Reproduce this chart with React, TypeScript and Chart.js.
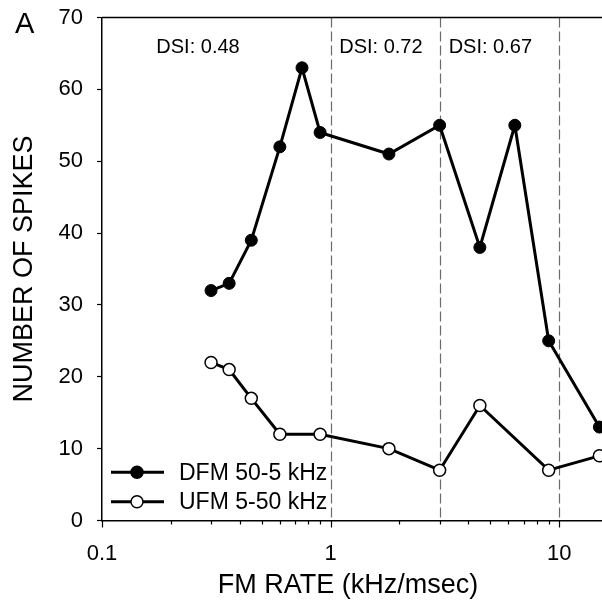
import React, { useEffect, useRef } from 'react';
import { Chart, registerables } from 'chart.js';

Chart.register(...registerables);

// ---- data ----
const dfmRates = [0.3, 0.36, 0.45, 0.6, 0.75, 0.9, 1.8, 3, 4.5, 6.4, 9, 15];
const dfmSpikes = [32, 33, 39, 52, 63, 54, 51, 55, 38, 55, 25, 13];
const ufmRates = [0.3, 0.36, 0.45, 0.6, 0.9, 1.8, 3, 4.5, 9, 15];
const ufmSpikes = [22, 21, 17, 12, 12, 10, 7, 16, 7, 9];
const seriesNames = ['DFM 50-5 kHz', 'UFM 5-50 kHz'];

const xTickLabels = [0.1, 1, 10];
const xMinorTicks = [0.2, 0.3, 0.4, 0.5, 0.6, 0.7, 0.8, 0.9, 2, 3, 4, 5, 6, 7, 8, 9];
const yTickLabels = [0, 10, 20, 30, 40, 50, 60, 70];

const dividerRates = [1, 3, 10];
const dsiTexts = ['DSI: 0.48', 'DSI: 0.72', 'DSI: 0.67'];
const dsiRates = [0.263, 1.66, 5.0];
const dsiLevel = 66.1;

const panelLetter = 'A';
const xTitle = 'FM RATE (kHz/msec)';
const yTitle = 'NUMBER OF SPIKES';

const FONT = '"Liberation Sans", Arial, Helvetica, sans-serif';

const overlay = {
  id: 'overlay',
  beforeDatasetsDraw(chart: any) {
    const { ctx, chartArea, scales } = chart;
    const x = scales.x;
    const y = scales.y;
    ctx.save();
    // dashed dividers
    ctx.strokeStyle = '#6a6a6a';
    ctx.lineWidth = 1.2;
    ctx.setLineDash([10, 4]);
    dividerRates.forEach((v) => {
      const px = Math.round(x.getPixelForValue(v)) + 0.5;
      ctx.beginPath();
      ctx.moveTo(px, chartArea.top);
      ctx.lineTo(px, chartArea.bottom);
      ctx.stroke();
    });
    ctx.setLineDash([]);
    // top border
    ctx.strokeStyle = '#000';
    ctx.lineWidth = 1.5;
    ctx.beginPath();
    ctx.moveTo(chartArea.left, chartArea.top);
    ctx.lineTo(chartArea.right, chartArea.top);
    ctx.stroke();
    // x ticks
    ctx.lineWidth = 1.2;
    xTickLabels.forEach((v) => {
      const px = Math.round(x.getPixelForValue(v)) + 0.5;
      ctx.beginPath();
      ctx.moveTo(px, chartArea.bottom);
      ctx.lineTo(px, chartArea.bottom + 7);
      ctx.stroke();
    });
    xMinorTicks.forEach((v) => {
      const px = Math.round(x.getPixelForValue(v)) + 0.5;
      ctx.beginPath();
      ctx.moveTo(px, chartArea.bottom);
      ctx.lineTo(px, chartArea.bottom + 4);
      ctx.stroke();
    });
    // DSI labels
    ctx.fillStyle = '#000';
    ctx.font = `20px ${FONT}`;
    ctx.textAlign = 'center';
    ctx.textBaseline = 'alphabetic';
    dsiTexts.forEach((t, i) => {
      ctx.fillText(t, x.getPixelForValue(dsiRates[i]), y.getPixelForValue(dsiLevel) + 7.5);
    });
    ctx.restore();
  },
  afterDraw(chart: any) {
    const { ctx } = chart;
    ctx.save();
    ctx.fillStyle = '#000';
    // panel letter
    ctx.font = `29px ${FONT}`;
    ctx.textAlign = 'left';
    ctx.textBaseline = 'alphabetic';
    ctx.fillText(panelLetter, 15, 33);
    // x title
    ctx.font = `27px ${FONT}`;
    ctx.textAlign = 'center';
    ctx.fillText(xTitle, 348, 593);
    // y title
    ctx.save();
    ctx.translate(31.5, 269);
    ctx.rotate(-Math.PI / 2);
    ctx.fillText(yTitle, 0, 0);
    ctx.restore();
    // legend
    const rows = [
      { name: seriesNames[0], fill: '#000', y: 472.3 },
      { name: seriesNames[1], fill: '#fff', y: 501.7 },
    ];
    rows.forEach((r) => {
      ctx.strokeStyle = '#000';
      ctx.lineWidth = 3;
      ctx.beginPath();
      ctx.moveTo(111, r.y);
      ctx.lineTo(164, r.y);
      ctx.stroke();
      ctx.beginPath();
      ctx.arc(137, r.y, 6, 0, Math.PI * 2);
      ctx.fillStyle = r.fill;
      ctx.fill();
      ctx.lineWidth = 1.5;
      ctx.stroke();
      ctx.fillStyle = '#000';
      ctx.font = `23px ${FONT}`;
      ctx.textAlign = 'left';
      ctx.textBaseline = 'alphabetic';
      ctx.fillText(r.name, 179, r.y + 7.5);
    });
    ctx.restore();
  },
};

export default function App() {
  const ref = useRef<HTMLCanvasElement | null>(null);

  useEffect(() => {
    if (!ref.current) return;
    const chart = new Chart(ref.current, {
      type: 'line',
      data: {
        datasets: [
          {
            label: seriesNames[0],
            data: dfmRates.map((r, i) => ({ x: r, y: dfmSpikes[i] })),
            borderColor: '#000',
            borderWidth: 3,
            pointRadius: 6,
            pointBackgroundColor: '#000',
            pointBorderColor: '#000',
            pointBorderWidth: 1,
            tension: 0,
            clip: false as any,
          },
          {
            label: seriesNames[1],
            data: ufmRates.map((r, i) => ({ x: r, y: ufmSpikes[i] })),
            borderColor: '#000',
            borderWidth: 3,
            pointRadius: 6,
            pointBackgroundColor: '#fff',
            pointBorderColor: '#000',
            pointBorderWidth: 1.5,
            tension: 0,
            clip: false as any,
          },
        ],
      },
      options: {
        responsive: false,
        animation: false,
        devicePixelRatio: 1,
        layout: { autoPadding: false, padding: { left: 0, top: 17.5, right: 0, bottom: 0 } },
        plugins: {
          legend: { display: false },
          tooltip: { enabled: false },
        },
        scales: {
          x: {
            type: 'logarithmic',
            min: 0.1,
            max: 15.4,
            grid: { display: false, drawTicks: false },
            border: { display: true, color: '#000', width: 1.5 },
            afterBuildTicks: (scale: any) => {
              scale.ticks = xTickLabels.map((v) => ({ value: v }));
            },
            afterFit: (scale: any) => {
              scale.height = 603 - 520.5;
              scale.paddingLeft = 0;
              scale.paddingRight = 0;
            },
            ticks: {
              autoSkip: false,
              maxRotation: 0,
              padding: 20,
              color: '#000',
              font: { family: FONT, size: 22 },
              callback: (v: any) => String(v),
            },
          },
          y: {
            type: 'linear',
            min: 0,
            max: 70,
            afterBuildTicks: (scale: any) => {
              scale.ticks = yTickLabels.map((v) => ({ value: v }));
            },
            afterFit: (scale: any) => {
              scale.width = 102;
              scale.paddingTop = 0;
              scale.paddingBottom = 0;
            },
            grid: {
              display: true,
              drawOnChartArea: false,
              drawTicks: true,
              tickLength: 5,
              color: '#000',
              tickColor: '#000',
              tickWidth: 1.2,
            },
            border: { display: true, color: '#000', width: 1.5 },
            ticks: {
              padding: 14,
              color: '#000',
              font: { family: FONT, size: 22 },
            },
          },
        },
      },
      plugins: [overlay],
    });
    return () => chart.destroy();
  }, []);

  return (
    <div
      style={{
        position: 'fixed',
        left: 0,
        top: 0,
        width: 602,
        height: 603,
        overflow: 'hidden',
        background: '#fff',
      }}
    >
      <canvas ref={ref} width={602} height={603} style={{ display: 'block' }} />
    </div>
  );
}
